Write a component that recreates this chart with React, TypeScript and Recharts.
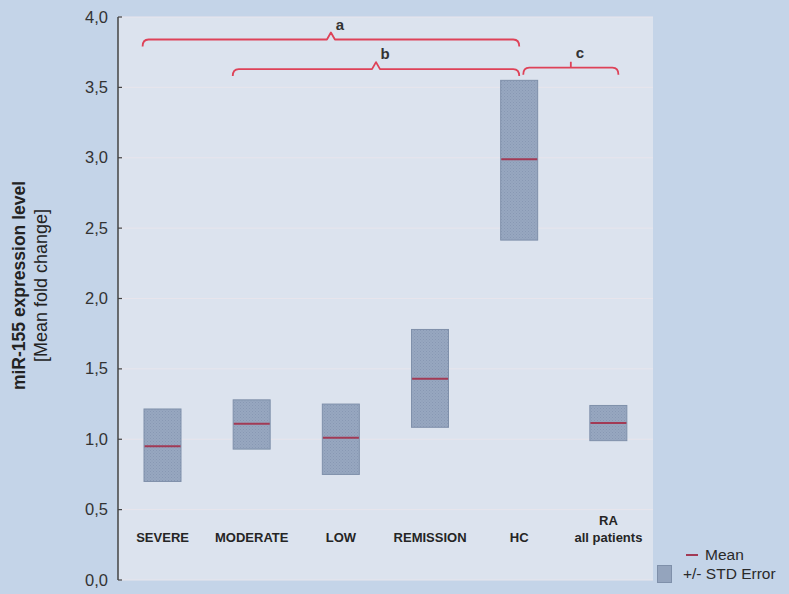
import React from 'react'
import {
  ComposedChart,
  Bar,
  Line,
  XAxis,
  YAxis,
  CartesianGrid,
  ReferenceLine,
  Label,
} from 'recharts'

const categories = ['SEVERE', 'MODERATE', 'LOW', 'REMISSION', 'HC', 'RA\nall patients']
const means = [0.95, 1.11, 1.01, 1.43, 2.99, 1.115]
const lowerSE = [0.7, 0.93, 0.75, 1.085, 2.415, 0.99]
const upperSE = [1.215, 1.28, 1.25, 1.78, 3.55, 1.24]
const yTicks = [0, 0.5, 1, 1.5, 2, 2.5, 3, 3.5, 4]

// significance brackets (a, b, c) above the boxes
const bracketLabels = ['a', 'b', 'c']
const bracketFrom = ['SEVERE', 'MODERATE', 'HC']
const bracketTo = ['HC', 'HC', 'RA\nall patients']
const bracketLevel = [3.84, 3.63, 3.64]

const data = categories.map((name, i) => ({
  name,
  mean: means[i],
  range: [lowerSE[i], upperSE[i]],
}))

const FONT = 'Arial, "Liberation Sans", sans-serif'
const RED = '#de4258'
const MEAN_RED = '#a23a55'

// end offsets of each bracket relative to the category centres
const bracketPad: Record<string, [number, number]> = {
  a: [-20, 0],
  b: [-19, 0],
  c: [4, 10],
}

const BoxShape = (props: any) => {
  const { x, y, width, height } = props
  return (
    <rect
      x={x}
      y={y}
      width={width}
      height={height}
      fill="url(#hatch)"
      stroke="#7f90aa"
      strokeWidth={1}
    />
  )
}

const MeanDot = (props: any) => {
  const { cx, cy, index } = props
  if (cx == null || cy == null) return <g key={`m-${index}`} />
  return (
    <line
      key={`m-${index}`}
      x1={cx - 18}
      x2={cx + 18}
      y1={cy}
      y2={cy}
      stroke={MEAN_RED}
      strokeWidth={2}
    />
  )
}

const CategoryTick = (props: any) => {
  const { x, y, payload } = props
  const lines = String(payload.value).split('\n')
  return (
    <g>
      {lines.map((l, i) => (
        <text
          key={i}
          x={x}
          y={y - 40 - (lines.length - 1 - i) * 17}
          textAnchor="middle"
          fontSize={13}
          fontWeight="bold"
          fontFamily={FONT}
          fill="#252525"
        >
          {l}
        </text>
      ))}
    </g>
  )
}

const ValueTick = (props: any) => {
  const { x, y, payload } = props
  return (
    <g>
      <line x1={x + 10} x2={x + 14} y1={y} y2={y} stroke="#444" strokeWidth={1.2} />
      <text
        x={x}
        y={y}
        dy={5.5}
        textAnchor="end"
        fontSize={16.5}
        fontFamily={FONT}
        fill="#333"
      >
        {Number(payload.value).toFixed(1).replace('.', ',')}
      </text>
    </g>
  )
}

const makeBracket = (label: string) => (p: any) => {
  const [pl, pr] = bracketPad[label]
  const xl = p.x1 + pl
  const xr = p.x2 + pr
  const y = p.y1
  const mid = (xl + xr) / 2
  const path =
    label === 'c'
      ? `M${xl},${y + 7} Q${xl},${y} ${xl + 6},${y} L${mid},${y} L${mid},${y - 6} M${mid},${y} L${xr - 6},${y} Q${xr},${y} ${xr},${y + 7}`
      : `M${xl},${y + 7} Q${xl},${y} ${xl + 6},${y} L${mid - 4},${y} L${mid},${y - 7} L${mid + 4},${y} L${xr - 6},${y} Q${xr},${y} ${xr},${y + 7}`
  return (
    <g>
      <path d={path} fill="none" stroke={RED} strokeWidth={1.8} strokeLinejoin="round" />
      <text
        x={mid + 9}
        y={y - 10}
        textAnchor="middle"
        fontSize={15}
        fontWeight="bold"
        fontFamily={FONT}
        fill="#333"
      >
        {label}
      </text>
    </g>
  )
}

const AxisTitle = (props: any) => {
  const vb = props.viewBox || { x: 0, y: 17, width: 118, height: 563 }
  const cy = vb.y + vb.height / 2 - 13
  const x1 = vb.x + 19
  const x2 = vb.x + 41
  return (
    <g>
      <text
        x={x1}
        y={cy}
        transform={`rotate(-90, ${x1}, ${cy})`}
        textAnchor="middle"
        dominantBaseline="central"
        fontSize={17.5}
        fontWeight="bold"
        fontFamily={FONT}
        fill="#222"
      >
        miR-155 expression level
      </text>
      <text
        x={x2}
        y={cy}
        transform={`rotate(-90, ${x2}, ${cy})`}
        textAnchor="middle"
        dominantBaseline="central"
        fontSize={18}
        fontFamily={FONT}
        fill="#222"
      >
        [Mean fold change]
      </text>
    </g>
  )
}

export default function App() {
  return (
    <div
      style={{
        position: 'fixed',
        left: 0,
        top: 0,
        width: 789,
        height: 594,
        background: '#c4d4e8',
        fontFamily: FONT,
      }}
    >
      <ComposedChart
        width={789}
        height={594}
        data={data}
        margin={{ top: 17, right: 136, bottom: 0, left: 0 }}
      >
        <defs>
          <pattern id="hatch" width="3" height="3" patternUnits="userSpaceOnUse">
            <rect width="3" height="3" fill="#97a7c0" />
            <rect width="1" height="1" fill="#8898b3" />
            <rect x="1.5" y="1.5" width="1" height="1" fill="#8c9cb6" />
          </pattern>
        </defs>
        <CartesianGrid vertical={false} stroke="#e8e5ec" fill="#dce3ee" />
        <XAxis
          dataKey="name"
          height={14}
          axisLine={false}
          tickLine={false}
          tickSize={0}
          interval={0}
          tick={<CategoryTick />}
        />
        <YAxis
          width={118}
          domain={[0, 4]}
          ticks={yTicks}
          tickSize={0}
          tickMargin={10}
          tickLine={false}
          axisLine={{ stroke: '#444', strokeWidth: 1.5 }}
          tick={<ValueTick />}
        >
          <Label content={<AxisTitle />} />
        </YAxis>
        {bracketLabels.map((lab, i) => (
          <ReferenceLine
            key={lab}
            segment={[
              { x: bracketFrom[i], y: bracketLevel[i] },
              { x: bracketTo[i], y: bracketLevel[i] },
            ]}
            shape={makeBracket(lab)}
          />
        ))}
        <Bar
          dataKey="range"
          barSize={37}
          shape={<BoxShape />}
          isAnimationActive={false}
        />
        <Line
          dataKey="mean"
          stroke="none"
          dot={MeanDot}
          activeDot={false}
          isAnimationActive={false}
        />
      </ComposedChart>
      <div
        style={{
          position: 'absolute',
          left: 657,
          top: 545,
          fontSize: 15.5,
          color: '#2a2a2a',
          lineHeight: '19px',
        }}
      >
        <div style={{ paddingLeft: 29, display: 'flex', alignItems: 'center' }}>
          <span
            style={{
              display: 'inline-block',
              width: 12,
              height: 2,
              background: MEAN_RED,
              marginRight: 7,
            }}
          />
          Mean
        </div>
        <div style={{ display: 'flex', alignItems: 'center' }}>
          <span
            style={{
              display: 'inline-block',
              width: 13,
              height: 16,
              background: '#94a4bd',
              border: '1px solid #7f90aa',
              marginRight: 11,
            }}
          />
          +/- STD Error
        </div>
      </div>
    </div>
  )
}
